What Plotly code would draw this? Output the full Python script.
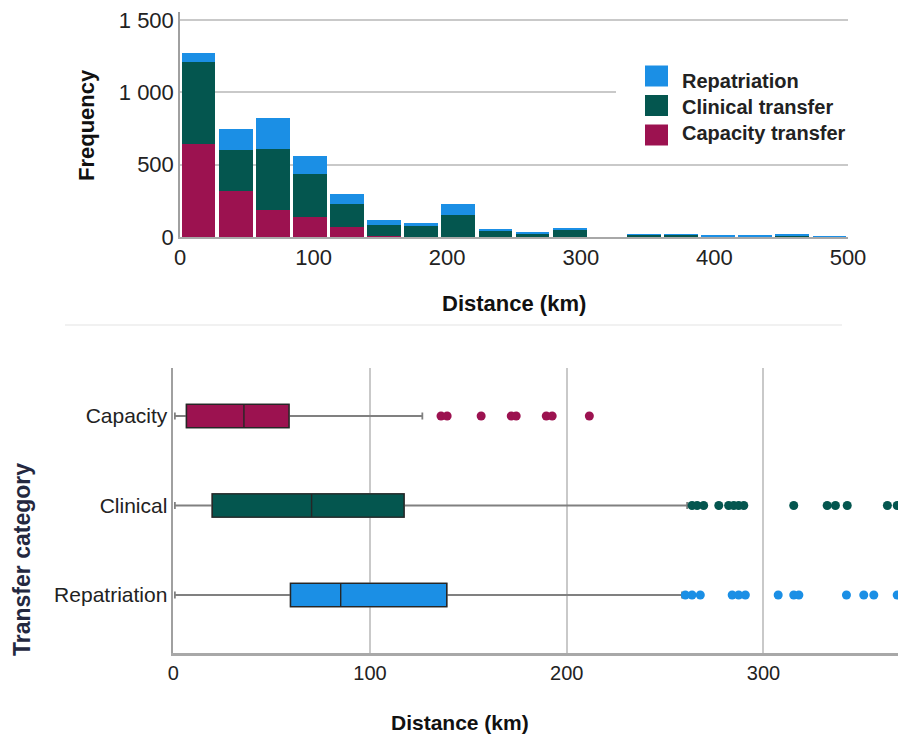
import plotly.graph_objects as go

W, H = 898, 736

# ---------------- data ----------------
bin_width = 500 / 18
bin_centers = [bin_width * (i + 0.5) for i in range(18)]
capacity_counts = [643, 318, 187, 140, 67, 5, 3, 3, 0, 0, 0, 0, 0, 0, 0, 0, 0, 0]
clinical_counts = [569, 283, 422, 293, 159, 76, 75, 150, 42, 25, 49, 0, 15, 15, 3, 2, 8, 0]
repatriation_counts = [62, 143, 212, 129, 69, 34, 20, 74, 7, 7, 11, 0, 5, 3, 6, 6, 10, 1]

series_names = ["Repatriation", "Clinical transfer", "Capacity transfer"]
colors = {"Repatriation": "#1B8FE5", "Clinical transfer": "#04564F", "Capacity transfer": "#9C1250"}

freq_ticks = [0, 500, 1000, 1500]
freq_ticktext = ["0", "500", "1 000", "1 500"]
dist_ticks_top = [0, 100, 200, 300, 400, 500]

box_categories = ["Repatriation", "Clinical", "Capacity"]
box_pos = [0, 1, 2]
box_colors = ["#1B8FE5", "#04564F", "#9C1250"]
lower_fence = [0.8, 0.8, 0.8]
q1_vals = [59.6, 19.8, 6.7]
median_vals = [85.1, 70.3, 35.9]
q3_vals = [139.0, 117.3, 58.8]
upper_fence = [258.6, 261.2, 126.6]
outliers = [
    [260.3, 263.7, 267.9, 284.1, 287.4, 290.8, 307.5, 315.4, 318.0, 342.2, 351.0, 356.1, 368.0],
    [263.7, 266.3, 269.6, 277.3, 282.3, 284.9, 287.4, 290.0, 315.4, 332.4, 336.6, 342.6, 363.0, 368.0],
    [136.1, 139.2, 156.5, 171.8, 174.3, 189.6, 192.6, 211.5],
]
dist_ticks_bottom = [0, 100, 200, 300]


def px(x):
    return x / W


def py(y):
    return (H - y) / H


fig = go.Figure()

# ---------------- top histogram ----------------
for name, vals in [("Capacity transfer", capacity_counts),
                   ("Clinical transfer", clinical_counts),
                   ("Repatriation", repatriation_counts)]:
    fig.add_trace(go.Bar(
        x=bin_centers, y=vals, width=bin_width * 0.91, name=name,
        marker=dict(color=colors[name], line=dict(width=0)),
        xaxis="x", yaxis="y", showlegend=False,
    ))

# ---------------- bottom box plot ----------------
for i in range(3):
    # whiskers (grey)
    fig.add_trace(go.Box(
        y=[box_pos[i]], q1=[q1_vals[i]], median=[median_vals[i]], q3=[q3_vals[i]],
        lowerfence=[lower_fence[i]], upperfence=[upper_fence[i]],
        orientation="h", width=0.26, whiskerwidth=0.3,
        fillcolor=box_colors[i], line=dict(color="#808080", width=1.8),
        xaxis="x2", yaxis="y2", showlegend=False, hoverinfo="skip",
    ))
    # box body (dark outline)
    fig.add_trace(go.Box(
        y=[box_pos[i]], q1=[q1_vals[i]], median=[median_vals[i]], q3=[q3_vals[i]],
        lowerfence=[q1_vals[i]], upperfence=[q3_vals[i]],
        orientation="h", width=0.26, whiskerwidth=0,
        fillcolor=box_colors[i], line=dict(color="#262626", width=1.4),
        xaxis="x2", yaxis="y2", showlegend=False,
    ))
    fig.add_trace(go.Scatter(
        x=outliers[i], y=[box_pos[i]] * len(outliers[i]), mode="markers",
        marker=dict(color=box_colors[i], size=9),
        xaxis="x2", yaxis="y2", showlegend=False,
    ))

font_family = "Liberation Sans, Arial, sans-serif"

fig.update_layout(
    width=W, height=H,
    margin=dict(l=0, r=0, t=0, b=0, pad=0, autoexpand=False),
    paper_bgcolor="white", plot_bgcolor="white",
    barmode="stack", bargap=0,
    font=dict(family=font_family, color="#222222"),
    xaxis=dict(
        domain=[px(180), px(848)], range=[0, 500], anchor="y", automargin=False,
        tickvals=dist_ticks_top, ticks="", showgrid=False, zeroline=False,
        showline=True, linecolor="#a8a8a8", linewidth=2,
        tickfont=dict(size=22, color="#222"),
    ),
    yaxis=dict(
        domain=[py(237), py(12)], range=[0, 1555], anchor="x", automargin=False,
        tickvals=freq_ticks, ticktext=freq_ticktext, ticks="",
        showgrid=True, gridcolor="#c9c9c9", gridwidth=1.5, zeroline=False,
        showline=True, linecolor="#a0a0a0", linewidth=1.5,
        tickfont=dict(size=22, color="#222"),
    ),
    xaxis2=dict(
        domain=[px(173.3), 1.0], range=[0, 368.4], anchor="y2", automargin=False,
        tickvals=dist_ticks_bottom, ticks="",
        showgrid=True, gridcolor="#c9c9c9", gridwidth=1.5, zeroline=False,
        showline=True, linecolor="#a8a8a8", linewidth=2.5,
        tickfont=dict(size=20, color="#222"),
    ),
    yaxis2=dict(
        domain=[py(653.3), py(368)], range=[-0.651, 2.536], anchor="x2", automargin=False,
        tickvals=box_pos, ticktext=box_categories, ticks="",
        showgrid=False, zeroline=False,
        showline=True, linecolor="#a0a0a0", linewidth=1.5,
        tickfont=dict(size=21, color="#222"),
    ),
)

annotations = [
    dict(text="<b>Frequency</b>", x=px(86), y=py(125), textangle=-90,
         font=dict(size=22, color="#111")),
    dict(text="<b>Distance (km)</b>", x=px(514), y=py(303),
         font=dict(size=22, color="#111")),
    dict(text="<b>Transfer category</b>", x=px(22), y=py(560), textangle=-90,
         font=dict(size=23, color="#24283f")),
    dict(text="<b>Distance (km)</b>", x=px(460), y=py(722),
         font=dict(size=21, color="#111")),
]
for a in annotations:
    a.update(xref="paper", yref="paper", showarrow=False, xanchor="center", yanchor="middle")

shapes = [
    # legend background
    dict(type="rect", xref="paper", yref="paper", x0=px(616), x1=px(862), y0=py(152), y1=py(58),
         fillcolor="white", line=dict(width=0), layer="above"),
    # faint separator between panels
    dict(type="line", xref="paper", yref="paper", x0=px(65), x1=px(842), y0=py(325), y1=py(325),
         line=dict(color="#ececec", width=1.5)),
]

legend_rows = [("Repatriation", 76, 81), ("Clinical transfer", 105.5, 107), ("Capacity transfer", 135, 133)]
for name, sq_y, tx_y in legend_rows:
    shapes.append(dict(type="rect", xref="paper", yref="paper",
                       x0=px(645), x1=px(668), y0=py(sq_y + 10.5), y1=py(sq_y - 10.5),
                       fillcolor=colors[name], line=dict(width=0), layer="above"))
    annotations.append(dict(text="<b>%s</b>" % name, x=px(680), y=py(tx_y), xref="paper", yref="paper",
                            xanchor="left", yanchor="middle", showarrow=False,
                            font=dict(size=20, color="#222")))

fig.update_layout(annotations=annotations, shapes=shapes)

fig.write_html(
    "out.html",
    config={"displayModeBar": False},
    post_script="document.body.style.margin='0';document.body.style.overflow='hidden';",
)
